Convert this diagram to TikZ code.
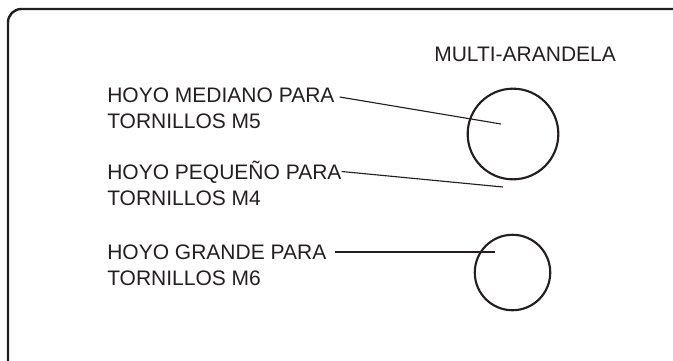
\documentclass[tikz,border=0pt]{standalone}
\usepackage{fontspec}
\setmainfont{Liberation Sans}
\usetikzlibrary{positioning}
\definecolor{tinta}{HTML}{231F20}
\tikzstyle{rotulo} = [
    anchor=base west,
    align=left,
    inner sep=0pt,
    text=tinta,
    font=\fontsize{15.75pt}{19.5pt}\selectfont
]
\tikzstyle{hoyo} = [
    circle,
    draw=tinta,
    line width=1.6pt,
    inner sep=0pt
]
\tikzstyle{guia} = [draw=tinta, line width=0.85pt]
\tikzstyle{marco} = [draw=tinta, line width=1.8pt, rounded corners=10pt]
\begin{document}
\begin{tikzpicture}[x=0.75pt, y=-0.75pt]

\useasboundingbox (0,0) rectangle (673,360);
\clip (0,0) rectangle (673,360);

\draw [marco] (8,9) rectangle (700,385);

\node (titulo) [rotulo] at (434,61) {MULTI-ARANDELA};

% anchor base = baseline of the second line
\node (m5) [rotulo] at (107,128) 
{HOYO MEDIANO PARA\\TORNILLOS M5};

\node (m4) [rotulo] at (107,205) 
{HOYO PEQUEÑO PARA\\TORNILLOS M4};

\node (m6) [rotulo] at (107,285) 
{HOYO GRANDE PARA\\TORNILLOS M6};

\node (medio) [hoyo, minimum size=68pt] at (513,134) {};
\node (grande) [hoyo, minimum size=56.6pt] at (512.5,272.5) {};

\coordinate (p5) at (501,124);
\coordinate (p4) at (503,187);
\coordinate (p6) at (495,252);

\draw [guia] ([shift={(5,-31)}]m5.base east) -- (p5);
\draw [guia] ([shift={(0,-33.5)}]m4.base east) -- (p4);
\draw [guia] ([shift={(8,-33)}]m6.base east) -- (p6);

\end{tikzpicture}
\end{document}
